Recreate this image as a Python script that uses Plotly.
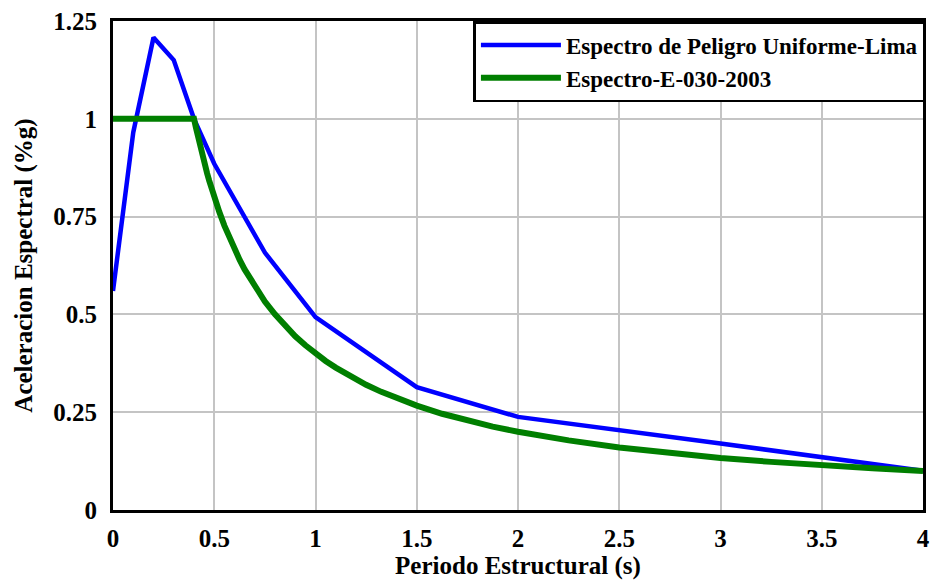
import plotly.graph_objects as go

# Blue: Espectro de Peligro Uniforme-Lima
t_upl = [0.0, 0.1, 0.2, 0.3, 0.4, 0.5, 0.75, 1.0, 1.5, 2.0, 3.0, 4.0]
sa_upl = [0.56, 0.965, 1.208, 1.15, 1.0, 0.885, 0.658, 0.493, 0.314, 0.238, 0.17, 0.10]

# Green: Espectro-E-030-2003
t_e030 = [0.0, 0.2, 0.4, 0.41, 0.425, 0.44, 0.45, 0.465, 0.475, 0.49, 0.5, 0.525, 0.55, 0.575, 0.6,
          0.625, 0.65, 0.675, 0.7, 0.725, 0.75, 0.8, 0.85, 0.9, 0.95, 1.0,
          1.05, 1.1, 1.175, 1.25, 1.325, 1.4, 1.5, 1.625, 1.75, 1.875, 2.0, 2.25, 2.5, 2.75, 3.0,
          3.25, 3.5, 3.75, 4.0]
sa_e030 = [1.0, 1.0, 1.0, 0.976, 0.941, 0.909, 0.889, 0.860, 0.842, 0.816, 0.80, 0.762, 0.727, 0.696, 0.667,
           0.64, 0.615, 0.593, 0.571, 0.552, 0.533, 0.50, 0.471, 0.444, 0.421, 0.40,
           0.381, 0.364, 0.340, 0.32, 0.302, 0.286, 0.267, 0.246, 0.229, 0.213, 0.20, 0.178, 0.16, 0.145, 0.133,
           0.123, 0.114, 0.107, 0.10]

x_ticks = [0, 0.5, 1, 1.5, 2, 2.5, 3, 3.5, 4]
x_labels = ["0", "0.5", "1", "1.5", "2", "2.5", "3", "3.5", "4"]
y_ticks = [0, 0.25, 0.5, 0.75, 1, 1.25]
y_labels = ["0", "0.25", "0.5", "0.75", "1", "1.25"]

FONT = "Liberation Serif"

fig = go.Figure()
fig.add_trace(go.Scatter(x=t_upl, y=sa_upl, mode="lines",
                         name="<b>Espectro de Peligro Uniforme-Lima</b>",
                         line=dict(color="#0000ff", width=4.5)))
fig.add_trace(go.Scatter(x=t_e030, y=sa_e030, mode="lines",
                         name="<b>Espectro-E-030-2003</b>",
                         line=dict(color="#007f00", width=6)))

fig.update_layout(
    width=932, height=582,
    margin=dict(l=113, r=7, t=21, b=72),
    paper_bgcolor="white", plot_bgcolor="white",
    font=dict(family=FONT, color="black"),
    legend=dict(x=1.003, y=1.0, xanchor="right", yanchor="top",
                bordercolor="black", borderwidth=2.5, bgcolor="white",
                font=dict(family=FONT, size=23, color="black"),
                tracegroupgap=0, itemwidth=80),
    xaxis=dict(range=[0, 4], tickvals=x_ticks, ticktext=[f"<b>{s}</b>" for s in x_labels],
               tickfont=dict(family=FONT, size=25), showgrid=True, gridcolor="#c4c4c4", gridwidth=2,
               showline=True, linecolor="black", linewidth=3, mirror=True, ticks="", zeroline=False,
               ticklabelstandoff=4, automargin=False,
               title=dict(text="<b>Periodo Estructural (s)</b>", font=dict(family=FONT, size=25), standoff=0)),
    yaxis=dict(range=[0, 1.25], tickvals=y_ticks, ticktext=[f"<b>{s}</b>" for s in y_labels],
               tickfont=dict(family=FONT, size=25), showgrid=True, gridcolor="#c4c4c4", gridwidth=2,
               showline=True, linecolor="black", linewidth=3, mirror=True, ticks="", zeroline=False,
               ticklabelstandoff=8, automargin=False,
               title=dict(text="<b>Aceleracion Espectral (%g)</b>", font=dict(family=FONT, size=25), standoff=14)),
)

fig.write_html("out.html")
